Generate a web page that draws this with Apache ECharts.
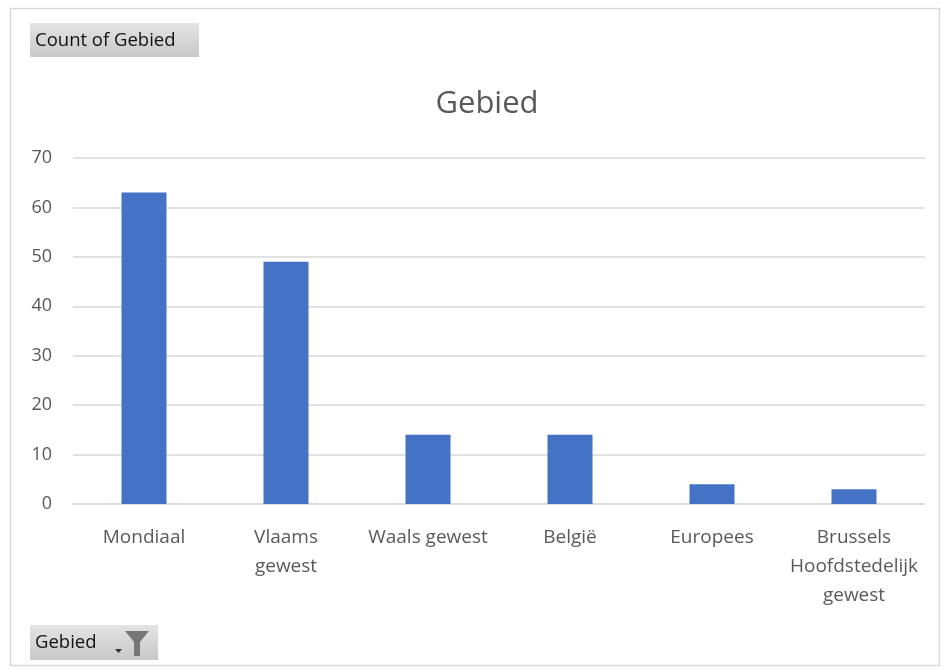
<!DOCTYPE html>
<html><head><meta charset="utf-8">
<script src="https://cdn.jsdelivr.net/npm/echarts@6/dist/echarts.min.js"></script>
<style>html,body{margin:0;padding:0;background:#fff}#c{width:945px;height:669px}</style>
</head><body><div id="c"></div>
<script>
const categories = ["Mondiaal", "Vlaams gewest", "Waals gewest", "België", "Europees", "Brussels Hoofdstedelijk gewest"];
const tickLabels = ["Mondiaal", "Vlaams\ngewest", "Waals gewest", "België", "Europees", "Brussels\nHoofdstedelijk\ngewest"];
const counts = [63, 49, 14, 14, 4, 3];
const yTicks = [0, 10, 20, 30, 40, 50, 60, 70];

const FONT = "'Open Sans', 'Noto Sans', sans-serif";
const chart = echarts.init(document.getElementById('c'));
chart.setOption({
  animation: false,
  backgroundColor: '#fff',
  title: {
    text: 'Gebied', left: 482, top: 84, textAlign: 'center',
    textStyle: { fontFamily: FONT, fontSize: 31, fontWeight: 'normal', color: '#595959' }
  },
  grid: { left: 73, right: 20, top: 158, bottom: 165 },
  xAxis: {
    type: 'category', data: categories,
    axisLine: { lineStyle: { color: '#d9d9d9', width: 1.5 } },
    axisTick: { show: false },
    axisLabel: {
      interval: 0, margin: 19, color: '#595959', fontFamily: FONT, fontSize: 19, lineHeight: 29,
      formatter: (v, i) => tickLabels[i]
    }
  },
  yAxis: {
    type: 'value', min: yTicks[0], max: yTicks[yTicks.length - 1], interval: 10,
    axisLine: { show: false }, axisTick: { show: false },
    splitLine: { lineStyle: { color: '#d9d9d9', width: 1.5 } },
    axisLabel: { margin: 21, color: '#595959', fontFamily: FONT, fontSize: 18 }
  },
  series: [{
    type: 'bar', data: counts, barWidth: 45,
    itemStyle: { color: '#4472c4' }
  }],
  graphic: [
    { type: 'rect', shape: { x: 10.5, y: 8.5, width: 929, height: 657 }, style: { fill: 'none', stroke: '#d9d9d9', lineWidth: 1.5 }, z: -1 },
    { type: 'rect', shape: { x: 30, y: 23, width: 169, height: 34 },
      style: { fill: new echarts.graphic.LinearGradient(0, 0, 0, 1, [{ offset: 0, color: '#e4e4e4' }, { offset: 1, color: '#c8c8c8' }]) } },
    { type: 'text', x: 35, y: 41, style: { text: 'Count of Gebied', fill: '#111', fontFamily: FONT, fontSize: 18.5, verticalAlign: 'middle' } },
    { type: 'rect', shape: { x: 30, y: 625, width: 128, height: 35 },
      style: { fill: new echarts.graphic.LinearGradient(0, 0, 0, 1, [{ offset: 0, color: '#e4e4e4' }, { offset: 1, color: '#c8c8c8' }]) } },
    { type: 'text', x: 35, y: 643, style: { text: 'Gebied', fill: '#111', fontFamily: FONT, fontSize: 18.5, verticalAlign: 'middle' } },
    { type: 'polygon', shape: { points: [[115, 649], [122, 649], [118.5, 653]] }, style: { fill: '#333' } },
    { type: 'polygon', shape: { points: [[125, 631], [149, 631], [140, 642], [140, 656], [134, 656], [134, 642]] }, style: { fill: '#777' } }
  ]
});
</script></body></html>
